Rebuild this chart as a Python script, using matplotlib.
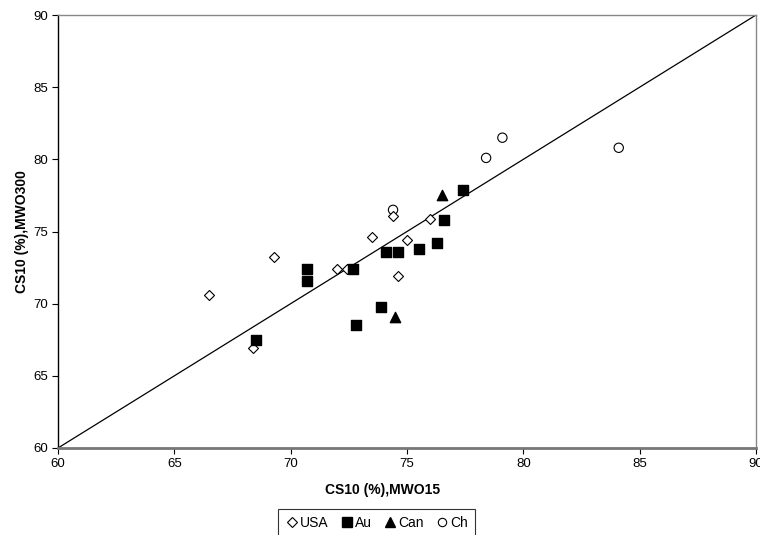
import matplotlib
matplotlib.use("Agg")
import matplotlib.pyplot as plt
from matplotlib.lines import Line2D

plt.rcParams['font.family'] = ['Liberation Sans', 'DejaVu Sans']

# MWO15 (x) vs MWO300 (y), CS10 %
usa_x = [66.5, 69.3, 68.4, 72.0, 72.4, 73.5, 74.4, 75.0, 74.6, 76.0]
usa_y = [70.6, 73.2, 66.9, 72.4, 72.4, 74.6, 76.1, 74.4, 71.9, 75.9]

au_x = [68.5, 70.7, 70.7, 72.7, 74.1, 74.6, 75.5, 76.3, 76.6, 77.4, 73.9, 72.8]
au_y = [67.5, 72.4, 71.6, 72.4, 73.6, 73.6, 73.8, 74.2, 75.8, 77.9, 69.8, 68.5]

can_x = [76.5, 74.5]
can_y = [77.5, 69.1]

ch_x = [74.4, 78.4, 79.1, 84.1]
ch_y = [76.5, 80.1, 81.5, 80.8]

fig = plt.figure(figsize=(7.6, 5.35), dpi=100)
ax = fig.add_axes([58 / 760, 1 - 448 / 535, (756 - 58) / 760, (448 - 15) / 535])

ax.plot([60, 90], [60, 90], color='black', lw=0.9, zorder=1)

ax.scatter(usa_x, usa_y, marker='D', s=26, facecolors='white', edgecolors='black', linewidths=0.8, zorder=3)
ax.scatter(au_x, au_y, marker='s', s=48, color='black', zorder=3)
ax.scatter(can_x, can_y, marker='^', s=55, color='black', zorder=3)
ax.scatter(ch_x, ch_y, marker='o', s=45, facecolors='none', edgecolors='black', linewidths=0.8, zorder=2)

ax.set_xlim(60, 90)
ax.set_ylim(60, 90)
ax.set_xticks(range(60, 91, 5))
ax.set_yticks(range(60, 91, 5))
ax.tick_params(direction='out', length=4, width=0.8, labelsize=9.5, pad=3, colors='black')

for side in ['top', 'right']:
    ax.spines[side].set_color('#888888')
    ax.spines[side].set_linewidth(1.0)
ax.spines['bottom'].set_color('#777777')
ax.spines['bottom'].set_linewidth(2.0)
ax.spines['left'].set_color('black')
ax.spines['left'].set_linewidth(1.0)

ax.set_xlabel('CS10 (%),MWO15', fontsize=10, fontweight='bold')
ax.xaxis.set_label_coords(0.465, -(490 - 448) / 433, transform=ax.transAxes)
ax.xaxis.label.set_va('center')
ax.set_ylabel('CS10 (%),MWO300', fontsize=10, fontweight='bold')
ax.yaxis.set_label_coords(-(58 - 22) / 698, 0.5)
ax.yaxis.label.set_va('center')

handles = [
    Line2D([], [], marker='D', ls='none', mfc='white', mec='black', ms=5, mew=0.8),
    Line2D([], [], marker='s', ls='none', color='black', ms=7),
    Line2D([], [], marker='^', ls='none', color='black', ms=7),
    Line2D([], [], marker='o', ls='none', mfc='none', mec='black', ms=6, mew=0.8),
]
leg = fig.legend(handles, ['USA', 'Au', 'Can', 'Ch'], ncol=4, loc='upper left',
                 bbox_to_anchor=(278 / 760, 1 - 509 / 535), fontsize=10,
                 frameon=True, fancybox=False, edgecolor='black',
                 handletextpad=0.1, columnspacing=0.8, handlelength=1.0,
                 borderpad=0.5, borderaxespad=0)
leg.get_frame().set_linewidth(0.8)

fig.savefig('out.png', dpi=100)
